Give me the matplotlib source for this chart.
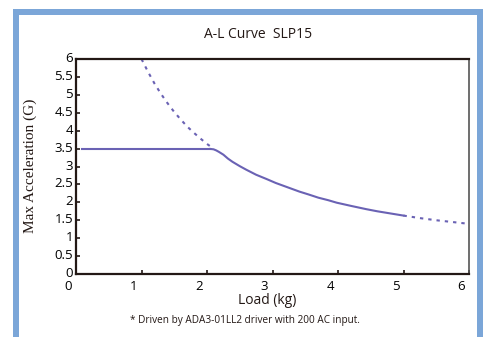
import matplotlib.pyplot as plt
from matplotlib.patches import Rectangle
from matplotlib.transforms import offset_copy
import numpy as np

# values
flat_load = [0.09, 2.05]
flat_acc = [3.49, 3.49]

solid_load = [2.05, 2.1, 2.14, 2.18, 2.25, 2.32, 2.39, 2.5, 2.6, 2.75, 2.91, 3.05, 3.2, 3.41,
              3.55, 3.7, 3.85, 3.98, 4.2, 4.43, 4.6, 4.8, 5.0]
solid_acc = [3.49, 3.48, 3.45, 3.41, 3.33, 3.22, 3.13, 3.01, 2.91, 2.77, 2.65, 2.54, 2.44, 2.30,
             2.22, 2.13, 2.06, 1.99, 1.90, 1.81, 1.75, 1.69, 1.63]

dash_hi_load = [1.0, 1.1, 1.2, 1.3, 1.4, 1.5, 1.6, 1.7, 1.8, 1.9, 2.0, 2.06]
dash_hi_acc = [6.0, 5.64, 5.31, 5.02, 4.76, 4.52, 4.31, 4.11, 3.94, 3.78, 3.63, 3.55]

dash_lo_load = [5.0, 5.25, 5.5, 5.75, 6.0]
dash_lo_acc = [1.63, 1.56, 1.50, 1.45, 1.40]

xticks = [0, 1, 2, 3, 4, 5, 6]
yticks = np.arange(0, 6.01, 0.5)
ytick_labels = ['0', '0.5', '1', '1.5', '2', '2.5', '3', '3.5', '4', '4.5', '5', '5.5', '6']

line_color = '#6a62b4'
border_color = '#7ba6d8'
W, H = 487, 337

fig = plt.figure(figsize=(W / 100, H / 100), dpi=100)
fig.patch.set_facecolor('white')

# blue frame around the chart (open at the bottom)
for x0, y0, w, h in [(13, 0, 6, H - 9), (477, 0, 6, H - 9), (13, H - 15, 470, 6)]:
    fig.patches.append(Rectangle((x0 / W, y0 / H), w / W, h / H, transform=fig.transFigure,
                                 color=border_color, lw=0))

ax = fig.add_axes([76 / W, (H - 274) / H, (469 - 76) / W, (274 - 59) / H])

ax.plot(flat_load, flat_acc, color=line_color, lw=1.5)
ax.plot(solid_load, solid_acc, color=line_color, lw=1.5)
ax.plot(dash_hi_load, dash_hi_acc, color=line_color, lw=1.5, ls=(0, (1.6, 2.4)))
ax.plot(dash_lo_load, dash_lo_acc, color=line_color, lw=1.5, ls=(0, (1.6, 2.4)))

ax.set_xlim(0, 6)
ax.set_ylim(0, 6)
ax.set_xticks(xticks)
ax.set_yticks(yticks)
ax.set_xticklabels([str(t) for t in xticks], fontfamily='Open Sans', fontsize=9.5)
ax.set_yticklabels(ytick_labels, fontfamily='Open Sans', fontsize=9.5)
ax.tick_params(direction='in', length=3, width=1.2, color='#231815')
ax.tick_params(axis='y', pad=2)
ax.tick_params(axis='x', pad=4)
for lab in ax.get_xticklabels():
    lab.set_transform(offset_copy(lab.get_transform(), fig=fig, x=-8, y=0, units='dots'))
for lab in ax.get_yticklabels():
    lab.set_transform(offset_copy(lab.get_transform(), fig=fig, x=0, y=2, units='dots'))
for s in ax.spines.values():
    s.set_linewidth(1.6)
    s.set_color('#231815')
ax.spines['right'].set_color('#555555')
ax.spines['right'].set_linewidth(1.2)

fig.text(258 / W, 1 - 35 / H, 'A-L Curve  SLP15', ha='center', va='center',
         fontfamily='Open Sans', fontsize=10, color='#231815')
fig.text(30 / W, 1 - 166 / H, 'Max Acceleration (G)', ha='center', va='center', rotation=90,
         fontfamily='Liberation Serif', fontsize=11, color='#231815')
fig.text(267 / W, 1 - 300 / H, 'Load (kg)', ha='center', va='center',
         fontfamily='Open Sans', fontsize=10, color='#231815')
fig.text(245 / W, 1 - 321 / H, '* Driven by ADA3-01LL2 driver with 200 AC input.', ha='center',
         va='center', fontfamily='Open Sans', fontsize=7.2, color='#231815')

fig.savefig('out.png', dpi=100)
